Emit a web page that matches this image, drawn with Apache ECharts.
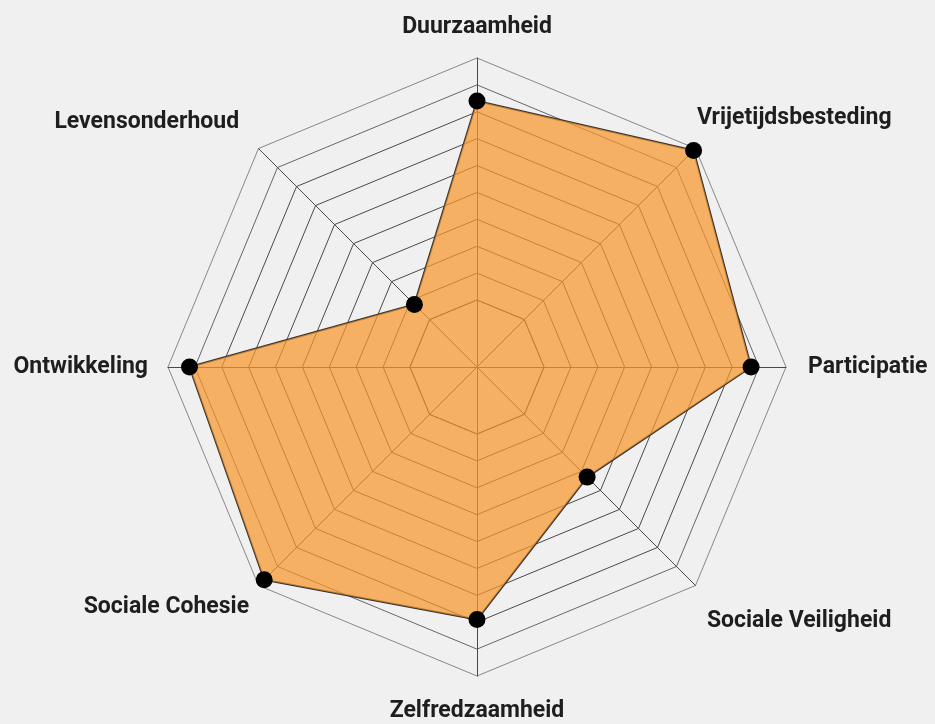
<!DOCTYPE html>
<html>
<head>
<meta charset="utf-8">
<script src="https://cdn.jsdelivr.net/npm/echarts@6/dist/echarts.min.js"></script>
<style>
  html, body { margin: 0; padding: 0; background: #f0f0f0; }
  #chart { width: 935px; height: 724px; }
</style>
</head>
<body>
<div id="chart"></div>
<script>
// 指标（从顶部开始，逆时针排列）
const indicatorNames = [
    'Duurzaamheid',
    'Levensonderhoud',
    'Ontwikkeling',
    'Sociale Cohesie',
    'Zelfredzaamheid',
    'Sociale Veiligheid',
    'Participatie',
    'Vrijetijdsbesteding'
];
// 分数
const scores = [7.4, 0.8, 8.2, 8.7, 6.9, 3.3, 7.7, 8.9];
const scaleMin = 0;
const scaleMax = 9;

// 每个标签的内边距 [上, 右, 下, 左]，用来微调标签位置
const namePadding = [
    [0, 0, 17, 0],
    [0, 18, 50, 0],
    [0, 18, 0, 0],
    [40, 8, 0, 0],
    [22, 0, 0, 0],
    [68, 0, 0, 10],
    [0, 0, 0, 20],
    [0, 0, 58, 0]
];

const chart = echarts.init(document.getElementById('chart'));

const lineGrey = '#4a4a4a';
const nameFont = {
    color: '#1e1e1e',
    fontFamily: 'Roboto',
    fontWeight: 'bold',
    fontSize: 23
};

// 构建富文本样式
const richStyles = {};
namePadding.forEach((p, i) => {
    richStyles['n' + i] = Object.assign({ padding: p }, nameFont);
});

const option = {
    backgroundColor: '#f0f0f0',
    radar: [
        {
            center: [477, 367],
            radius: [67, 309],
            splitNumber: 9,
            shape: 'polygon',
            indicator: indicatorNames.map(name => ({ name: name, min: scaleMin, max: scaleMax })),
            axisName: Object.assign({
                formatter: function(name) {
                    const idx = indicatorNames.indexOf(name);
                    return '{n' + idx + '|' + name + '}';
                },
                rich: richStyles
            }, nameFont),
            nameGap: 2,
            splitArea: { show: false },
            splitLine: {
                lineStyle: {
                    color: [lineGrey, lineGrey, lineGrey, lineGrey, lineGrey,
                            lineGrey, lineGrey, lineGrey, '#666', '#888'],
                    width: 1
                }
            },
            axisLine: { lineStyle: { color: lineGrey, width: 1 } }
        },
        {
            // 中心的小八边形和辐条
            center: [477, 367],
            radius: 67,
            splitNumber: 1,
            shape: 'polygon',
            indicator: indicatorNames.map(() => ({ name: '', min: 0, max: 1 })),
            axisName: { show: false },
            splitArea: { show: false },
            splitLine: { lineStyle: { color: lineGrey, width: 1 } },
            axisLine: { lineStyle: { color: lineGrey, width: 1 } }
        }
    ],
    series: [
        {
            type: 'radar',
            radarIndex: 0,
            symbol: 'circle',
            symbolSize: 17,
            itemStyle: { color: '#000' },
            lineStyle: { color: '#333', width: 2 },
            areaStyle: { color: '#f6972c', opacity: 0.72 },
            data: [{ value: scores }]
        }
    ]
};

chart.setOption(option);
</script>
</body>
</html>
